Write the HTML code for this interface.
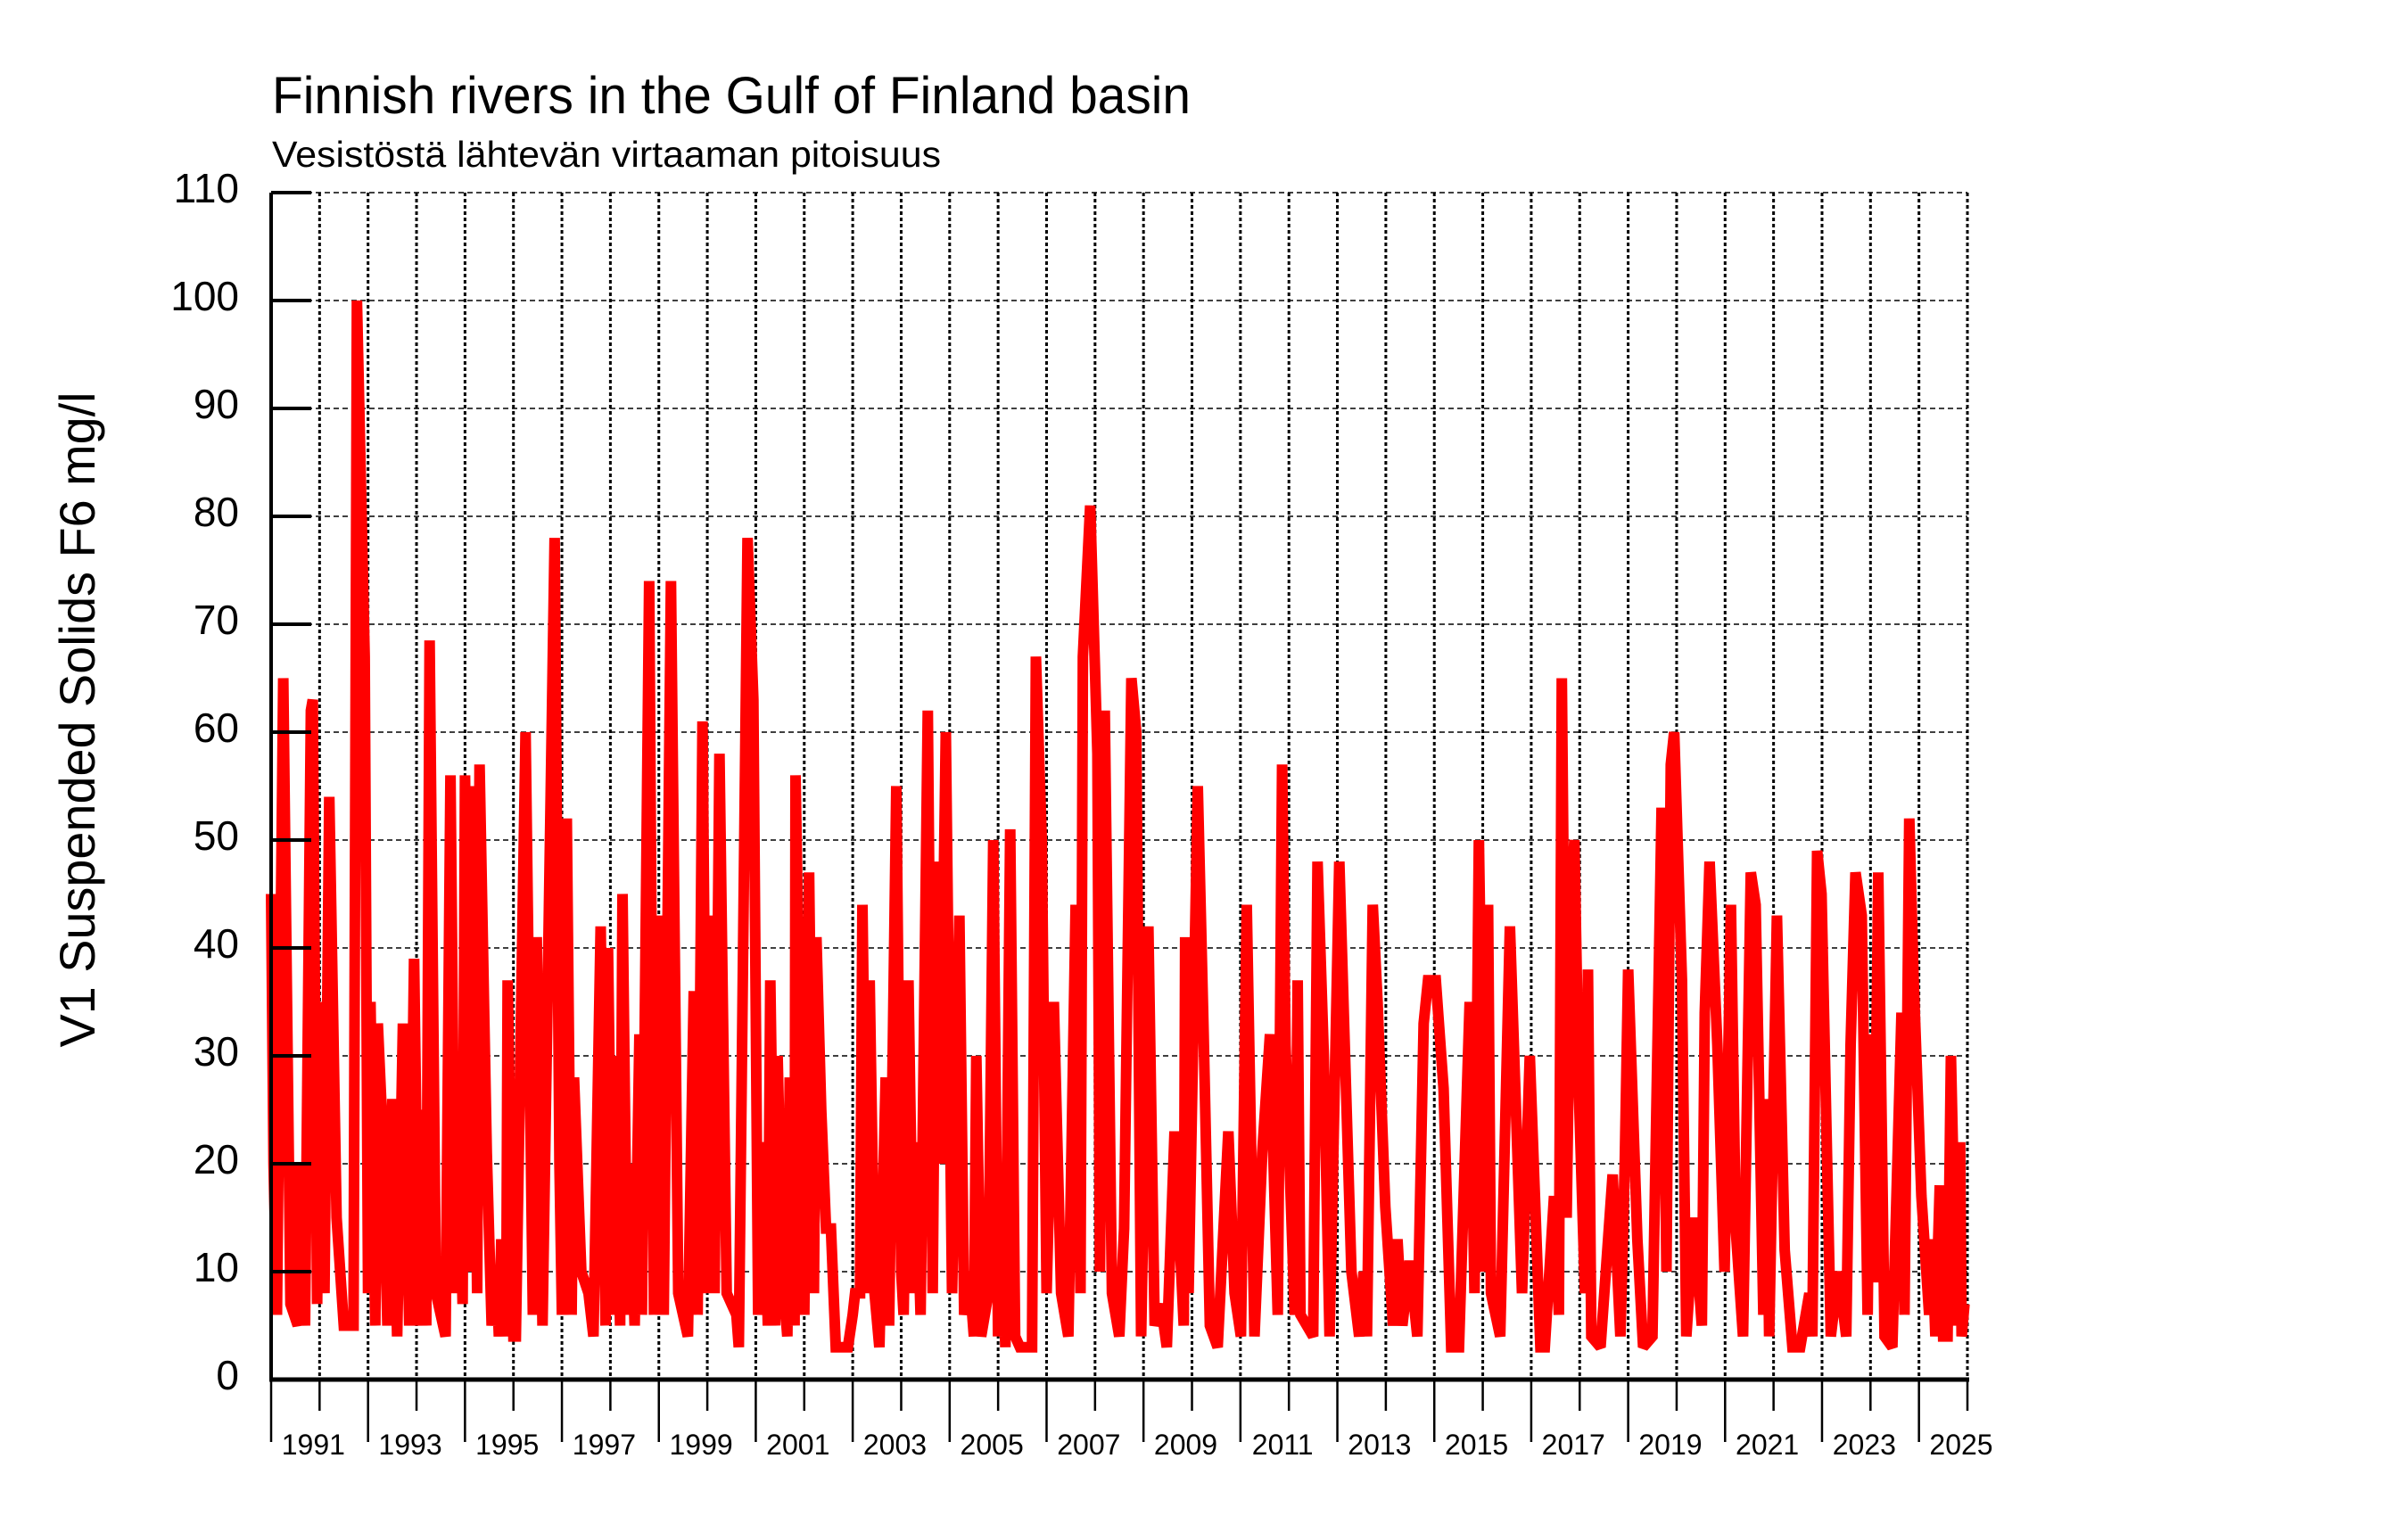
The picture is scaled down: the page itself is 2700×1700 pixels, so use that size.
<!DOCTYPE html>
<html><head><meta charset="utf-8"><title>Finnish rivers in the Gulf of Finland basin</title>
<style>html,body{margin:0;padding:0;background:#fff}svg{display:block}text{font-family:"Liberation Sans",Arial,sans-serif;fill:#000}</style>
</head><body>
<svg id="chart" xmlns="http://www.w3.org/2000/svg" width="2700" height="1700" viewBox="0 0 2700 1700">
<rect width="2700" height="1700" fill="#fff"/>
<text x="305" y="127" font-size="58" textLength="1030" lengthAdjust="spacingAndGlyphs">Finnish rivers in the Gulf of Finland basin</text>
<text x="305" y="187" font-size="41" textLength="750" lengthAdjust="spacingAndGlyphs">Vesistöstä lähtevän virtaaman pitoisuus</text>
<text transform="translate(106,807) rotate(-90)" text-anchor="middle" font-size="56" textLength="735" lengthAdjust="spacingAndGlyphs">V1 Suspended Solids F6 mg/l</text>
<g id="grid"></g>
<g id="series"></g>
<g id="axes"></g>
</svg>
<script>
const yTicks = [0,10,20,30,40,50,60,70,80,90,100,110];
const yearStart = 1990;
const yearEnd = 2025;
const dates = [
1990.00,1990.05,1990.12,1990.25,1990.40,1990.55,1990.57,1990.70,1990.82,1990.86,1990.95,1991.00,1991.10,1991.20,1991.35,1991.50,1991.70,1991.77,1991.93,1992.00,
1992.05,1992.15,1992.20,1992.30,1992.40,1992.50,1992.60,1992.72,1992.85,1992.95,1993.05,1993.10,1993.20,1993.27,1993.40,1993.60,1993.70,1993.80,1993.85,1993.95,
1994.00,1994.10,1994.15,1994.25,1994.30,1994.45,1994.55,1994.65,1994.70,1994.75,1994.85,1994.88,1995.00,1995.05,1995.25,1995.40,1995.48,1995.60,1995.85,1995.95,
1996.00,1996.10,1996.20,1996.25,1996.40,1996.55,1996.65,1996.80,1996.90,1996.95,1997.05,1997.10,1997.20,1997.25,1997.35,1997.40,1997.50,1997.60,1997.65,1997.80,
1997.90,1998.00,1998.10,1998.25,1998.40,1998.60,1998.72,1998.80,1998.90,1999.00,1999.10,1999.15,1999.25,1999.40,1999.60,1999.65,1999.83,1999.95,2000.05,2000.15,
2000.25,2000.30,2000.40,2000.45,2000.55,2000.65,2000.70,2000.80,2000.82,2000.95,2001.00,2001.10,2001.20,2001.25,2001.35,2001.45,2001.55,2001.65,2001.90,2002.00,
2002.05,2002.15,2002.20,2002.30,2002.35,2002.45,2002.55,2002.68,2002.75,2002.90,2003.00,2003.05,2003.15,2003.25,2003.30,2003.40,2003.55,2003.65,2003.72,2003.80,
2003.92,2004.05,2004.20,2004.30,2004.40,2004.50,2004.55,2004.65,2004.80,2004.90,2005.00,2005.05,2005.15,2005.25,2005.35,2005.45,2005.70,2005.78,2005.90,2006.00,
2006.15,2006.30,2006.45,2006.60,2006.70,2006.75,2006.90,2007.05,2007.10,2007.20,2007.35,2007.50,2007.60,2007.75,2007.85,2007.95,2008.10,2008.23,2008.36,2008.48,
2008.64,2008.83,2008.86,2008.93,2009.12,2009.24,2009.37,2009.53,2009.75,2009.88,2010.01,2010.13,2010.29,2010.45,2010.61,2010.77,2010.86,2010.93,2011.12,2011.18,
2011.24,2011.50,2011.59,2011.72,2011.84,2012.04,2012.29,2012.45,2012.54,2012.61,2012.73,2012.83,2012.99,2013.15,2013.24,2013.34,2013.49,2013.65,2013.78,2013.87,
2014.03,2014.19,2014.35,2014.51,2014.73,2014.83,2014.92,2015.05,2015.11,2015.17,2015.36,2015.56,2015.81,2015.97,2016.19,2016.28,2016.47,2016.57,2016.63,2016.73,
2016.82,2016.89,2016.98,2017.11,2017.17,2017.24,2017.43,2017.68,2017.84,2017.93,2018.00,2018.19,2018.31,2018.50,2018.69,2018.79,2018.88,2018.95,2019.11,2019.20,
2019.36,2019.52,2019.58,2019.68,2019.84,2019.99,2020.12,2020.22,2020.37,2020.53,2020.63,2020.79,2020.85,2020.91,2021.07,2021.23,2021.39,2021.55,2021.74,2021.80,
2021.90,2021.99,2022.18,2022.34,2022.50,2022.59,2022.69,2022.82,2022.94,2023.00,2023.07,2023.16,2023.29,2023.45,2023.64,2023.70,2023.80,2023.89,2024.05,2024.21,
2024.27,2024.34,2024.43,2024.50,2024.59,2024.66,2024.78,2024.85,2024.88,2024.94,2025.00];
const values = [
45,20,6,65,7,5,20,5,62,63,7,35,8,54,15,5,5,100,67,8,
35,5,33,23,5,26,4,33,5,39,5,25,5,68.5,8,4,56,8,30,7,
56,10,55,8,57,21,5,10,4,13,4,37,4,4,60,6,41,5,78,20,
6,52,6,28,10,8,4,42,5,40,6,30,5,45,6,20,5,32,6,74,
6,43,6,74,8,4,36,6,61,8,43,8,58,8,6,3,78,63,6,22,
5,37,5,30,10,4,28,5,56,20,6,47,8,41,25,14,14,3,3,6,
8,8,44,8,37,8,3,28,5,55,10,6,37,8,22,6,62,8,48,20,
60,8,43,6,10,4,30,4,8,50,4,17,3,51,4,3,3,67,50,8,
35,8,4,44,8,67,81,58,10,62,8,4,14,65,60,4,42,5,7,3,
23,5,41,8,55,32,5,3,23,8,4,44,4,21,32,6,57,31,6,
37,6,4,48,30,4,48,10,4,10,4,44,35,16,5,13,5,11,4,33,
37,37,27,3,3,35,8,50,10,44,8,4,42,8,30,3,3,17,6,65,
15,44,50,27,8,38,4,3,19,4,20,38,13,3,4,53,10,57,60,37,
4,15,5,34,48,31,10,44,14,4,47,44,6,26,4,43,12,3,3,8,
4,49,45,4,10,4,31,47,43,6,32,9,47,4,3,34,6,52,37,17,
6,13,4,18,4,4,30,5,22,4,7];

const NS='http://www.w3.org/2000/svg';
const X0=304, X1=2206, Y0=1547, YTOP=216;
const xScale = t => X0 + (t - yearStart) / (yearEnd - yearStart) * (X1 - X0);
const yScale = v => Y0 - v / 110 * (Y0 - YTOP);
function mk(tag, attrs, parent){const e=document.createElementNS(NS,tag);for(const k in attrs)e.setAttribute(k,attrs[k]);parent.appendChild(e);return e;}
const grid=document.getElementById('grid'), axes=document.getElementById('axes'), series=document.getElementById('series');

yTicks.forEach(v=>{
  const y=yScale(v);
  if(v>0){
    const g=mk('line',{x1:X0,x2:X1,y1:y,y2:y,stroke:'#000','stroke-width':1.6,'stroke-dasharray':'6 4'},grid);
    
    
    const t=mk('line',{x1:X0,x2:X0+45,y1:y,y2:y,stroke:'#000','stroke-width':4},axes);
    
    
  }
  const lb=mk('text',{x:268,y:y+11,'font-size':46,'text-anchor':'end'},axes);
  lb.textContent=String(v);
  
  
});
for(let yr=yearStart; yr<=yearEnd; yr++){
  const x=xScale(yr);
  if(yr>yearStart){
    const g=mk('line',{x1:x,x2:x,y1:YTOP,y2:Y0,stroke:'#000','stroke-width':3,'stroke-dasharray':'4 3'},grid);
    
    
  }
  const isOdd = yr%2===1;
  const tk=mk('line',{x1:x,x2:x,y1:Y0,y2:isOdd?1582:1617,stroke:'#000','stroke-width':2.5},axes);
  
  
  if(isOdd){
    const lb=mk('text',{x:x-7,y:1631,'font-size':32,'text-anchor':'middle'},axes);
    lb.textContent=String(yr);
    
    
  }
}
const ax=mk('line',{x1:X0,x2:X0,y1:YTOP,y2:Y0,stroke:'#000','stroke-width':4},axes);


const bx=mk('line',{x1:X0-2,x2:X1+2,y1:Y0,y2:Y0,stroke:'#000','stroke-width':5},axes);


const tt=mk('line',{x1:X0,x2:X0+45,y1:YTOP,y2:YTOP,stroke:'#000','stroke-width':4},axes);



const pts = dates.map((d,i)=>xScale(d).toFixed(1)+','+yScale(values[i]).toFixed(1)).join(' ');
const line=mk('polyline',{points:pts,fill:'none',stroke:'#ff0000','stroke-width':12,'stroke-linejoin':'miter','stroke-miterlimit':2},series);


</script>
</body></html>
